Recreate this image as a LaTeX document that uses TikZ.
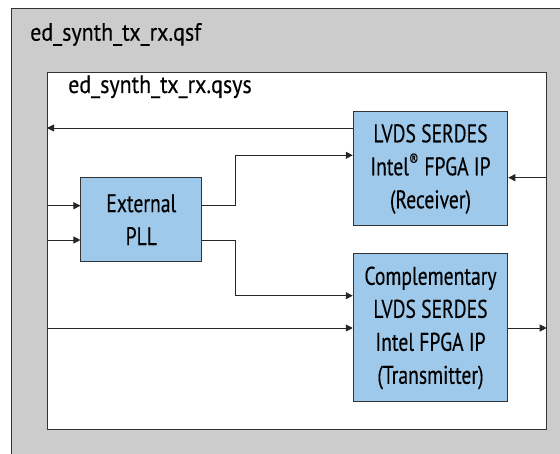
\documentclass[tikz,border=0pt]{standalone}
\usepackage{fontspec}
\setmainfont{PT Sans}[FakeStretch=0.77,FakeBold=0.25]
\newfontfamily\titlefont{PT Sans}[FakeStretch=0.88,FakeBold=0.25]
\usetikzlibrary{arrows.meta}
\definecolor{outergray}{HTML}{CCCCCC}
\definecolor{boxblue}{HTML}{9FC9EB}
\definecolor{edge}{HTML}{333333}
\tikzset{
  blk/.style={draw=edge, line width=1pt, fill=boxblue, align=center,
    inner sep=0pt, font={\fontsize{25.5}{33}\selectfont}},
  conn/.style={draw=black!85, line width=0.9pt},
  arr/.style={conn, -{Triangle[length=7pt,width=7pt]}},
  ttl/.style={anchor=base west, inner sep=0pt, font={\titlefont\fontsize{25}{28}\selectfont}}
}
\begin{document}
\begin{tikzpicture}[x=1pt,y=-1pt]
\useasboundingbox (0,0) rectangle (560,454);
\clip (0,0) rectangle (560,454);
\fill[white] (0,0) rectangle (560,454);
\filldraw[fill=outergray, draw=edge, line width=1pt] (11,9) rectangle (575,470);
\node[ttl] (qsf) at (30,40.7) {ed\_synth\_tx\_rx.qsf};
\node[draw=edge, fill=white, line width=1pt, minimum width=498.7pt, minimum height=357pt,
  anchor=north west, inner sep=0pt] (inner) at (47,72) {};
\node[ttl] (qsys) at (68,93) {ed\_synth\_tx\_rx.qsys};
\node[blk, minimum width=154.5pt, minimum height=114pt] (rx) at (430.5,169)
  {LVDS SERDES\\Intel\textsuperscript{®} FPGA IP\\(Receiver)};
\node[blk, minimum width=154.5pt, minimum height=148pt] (tx) at (430.5,328)
  {Complementary\\LVDS SERDES\\Intel FPGA IP\\(Transmitter)};
\node[blk, minimum width=120.7pt, minimum height=84pt] (pll) at (141.3,219.7)
  {External\\PLL};
\coordinate (a1) at (inner.west |- 0,128);
\coordinate (a2) at (inner.west |- 0,205.7);
\coordinate (a3) at (inner.west |- 0,240);
\coordinate (a4) at (inner.west |- 0,328);
\coordinate (a5) at (inner.east |- 0,328);
\coordinate (a6) at (inner.east |- 0,177.7);
\coordinate (j1) at (235.7,0);
\draw[arr] (rx.west |- a1) -- (a1);
\draw[arr] (a2) -- (pll.west |- a2);
\draw[arr] (a3) -- (pll.west |- a3);
\draw[arr] (pll.east |- a2) -- (j1 |- a2) |- (rx.west |- 0,155.3);
\draw[arr] (pll.east |- a3) -- (j1 |- a3) |- (tx.west |- 0,295.7);
\draw[arr] (a4) -- (tx.west |- a4);
\draw[arr] (tx.east |- a4) -- (a5);
\draw[arr] (a6) -- (rx.east |- a6);
\end{tikzpicture}
\end{document}
